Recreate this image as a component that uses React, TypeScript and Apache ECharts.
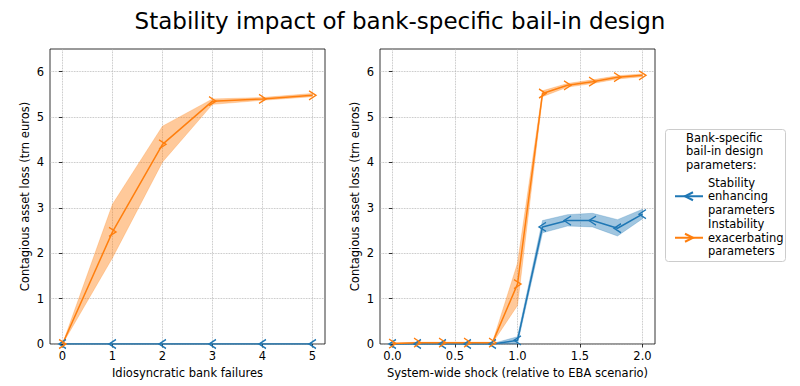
import React, { useEffect, useRef } from 'react';
import * as echarts from 'echarts';

const TITLE = 'Stability impact of bank-specific bail-in design';
const Y_NAME = 'Contagious asset loss (trn euros)';
const LEFT_X_NAME = 'Idiosyncratic bank failures';
const RIGHT_X_NAME = 'System-wide shock (relative to EBA scenario)';
const SERIES_STABLE = 'Stability\nenhancing\nparameters';
const SERIES_UNSTABLE = 'Instability\nexacerbating\nparameters';
const LEGEND_TITLE = 'Bank-specific\nbail-in design\nparameters:';

// Left panel: idiosyncratic bank failures
const leftX = [0, 1, 2, 3, 4, 5];
const leftStable = [0, 0, 0, 0, 0, 0];
const leftUnstable = [0, 2.47, 4.4, 5.35, 5.4, 5.48];
const leftUnstableLow = [0, 1.9, 4.01, 5.28, 5.37, 5.45];
const leftUnstableHigh = [0, 3.08, 4.8, 5.4, 5.43, 5.52];

// Right panel: system-wide shock
const rightX = [0, 0.2, 0.4, 0.6, 0.8, 1.0, 1.2, 1.4, 1.6, 1.8, 2.0];
const rightStable = [0, 0, 0, 0, 0, 0.08, 2.58, 2.72, 2.72, 2.55, 2.86];
const rightStableLow = [0, 0, 0, 0, 0, 0, 2.45, 2.6, 2.58, 2.38, 2.76];
const rightStableHigh = [0, 0.01, 0.01, 0.01, 0.01, 0.16, 2.72, 2.85, 2.88, 2.74, 2.97];
const rightUnstable = [0.01, 0.03, 0.03, 0.03, 0.03, 1.32, 5.52, 5.7, 5.78, 5.88, 5.92];
const rightUnstableLow = [0, 0.02, 0.02, 0.02, 0.02, 0.85, 5.45, 5.66, 5.74, 5.84, 5.89];
const rightUnstableHigh = [0.02, 0.04, 0.04, 0.04, 0.04, 1.78, 5.58, 5.74, 5.82, 5.91, 5.95];

const leftXTicks = [0, 1, 2, 3, 4, 5];
const rightXTicks = [0, 0.5, 1.0, 1.5, 2.0];
const yTicks = [0, 1, 2, 3, 4, 5, 6];

const BLUE = '#1f77b4';
const ORANGE = '#ff7f0e';
const FONT = 'DejaVu Sans';
const FS = 11.5;

const LEFT_ARROW = 'path://M10,0L0,5L10,10';
const RIGHT_ARROW = 'path://M0,0L10,5L0,10';

const pairs = (xs: number[], ys: number[]) => xs.map((x, i) => [x, ys[i]]);

function lineSeries(name: string, xs: number[], ys: number[], color: string, symbol: string, gi: number) {
  return {
    type: 'line',
    name,
    xAxisIndex: gi,
    yAxisIndex: gi,
    data: pairs(xs, ys),
    symbol,
    symbolSize: [7, 9],
    showSymbol: true,
    lineStyle: { color, width: 1.5 },
    itemStyle: { color: 'none', borderColor: color, borderWidth: 1.3 },
    z: 3,
  };
}

function bandSeries(id: string, xs: number[], low: number[], high: number[], color: string, gi: number) {
  return {
    type: 'custom',
    name: id,
    xAxisIndex: gi,
    yAxisIndex: gi,
    silent: true,
    z: 1,
    data: xs.map((x, i) => [x, low[i], high[i]]),
    encode: { x: 0, y: [1, 2] },
    renderItem: (params: any, api: any) => {
      if (params.dataIndex !== 0) return null;
      const top = xs.map((x, i) => api.coord([x, high[i]]));
      const bottom = xs.map((x, i) => api.coord([x, low[i]])).reverse();
      return {
        type: 'polygon',
        shape: { points: top.concat(bottom) },
        style: { fill: color, opacity: 0.42, stroke: color, lineWidth: 0.6 },
      };
    },
  };
}

function xAxisCfg(gi: number, min: number, max: number, ticks: number[], name: string, fmt: (v: number) => string) {
  return {
    gridIndex: gi,
    type: 'value',
    min,
    max,
    name,
    nameLocation: 'middle',
    nameGap: 22,
    nameTextStyle: { color: '#000', fontSize: FS, fontFamily: FONT },
    axisLine: { show: false },
    axisTick: { show: true, inside: false, length: 3.5, customValues: ticks, lineStyle: { color: '#000', width: 0.8 } },
    axisLabel: { customValues: ticks, color: '#000', fontSize: FS, fontFamily: FONT, margin: 6, formatter: (v: number) => fmt(v) },
    splitLine: { show: true, lineStyle: { type: 'dotted', color: '#b0b0b0', width: 0.8 } },
  };
}

function yAxisCfg(gi: number) {
  return {
    gridIndex: gi,
    type: 'value',
    min: 0,
    max: 6.5,
    name: Y_NAME,
    nameLocation: 'middle',
    nameGap: 19,
    nameRotate: 90,
    nameTextStyle: { color: '#000', fontSize: FS, fontFamily: FONT },
    axisLine: { show: false },
    axisTick: { show: true, inside: false, length: 3.5, customValues: yTicks, lineStyle: { color: '#000', width: 0.8 } },
    axisLabel: { customValues: yTicks, color: '#000', fontSize: FS, fontFamily: FONT, margin: 6 },
    splitLine: { show: true, lineStyle: { type: 'dotted', color: '#b0b0b0', width: 0.8 } },
  };
}

export default function App() {
  const ref = useRef<HTMLDivElement>(null);
  useEffect(() => {
    if (!ref.current) return;
    const chart = echarts.init(ref.current, undefined, { renderer: 'svg' });
    const option = {
      animation: false,
      backgroundColor: '#fff',
      title: {
        text: TITLE,
        left: 'center',
        top: 4,
        textStyle: { fontSize: 23, fontWeight: 'normal', color: '#000', fontFamily: FONT },
      },
      grid: [
        { left: 50, top: 49, width: 275, height: 295, show: true, borderColor: '#000', borderWidth: 0.8, backgroundColor: 'transparent' },
        { left: 380, top: 49, width: 275, height: 295, show: true, borderColor: '#000', borderWidth: 0.8, backgroundColor: 'transparent' },
      ],
      xAxis: [
        xAxisCfg(0, -0.25, 5.25, leftXTicks, LEFT_X_NAME, (v) => String(Math.round(v))),
        xAxisCfg(1, -0.1, 2.1, rightXTicks, RIGHT_X_NAME, (v) => v.toFixed(1)),
      ],
      yAxis: [yAxisCfg(0), yAxisCfg(1)],
      legend: {
        data: [SERIES_STABLE, SERIES_UNSTABLE],
        orient: 'vertical',
        left: 669,
        top: 171,
        itemWidth: 28,
        itemHeight: 10,
        itemGap: 1,
        selectedMode: false,
        textStyle: { color: '#000', fontSize: FS, fontFamily: FONT, lineHeight: 13.5 },
        z: 5,
      },
      graphic: [
        {
          type: 'rect',
          z: 0,
          shape: { x: 665.5, y: 129.5, width: 120, height: 132, r: 3 },
          style: { fill: 'rgba(255,255,255,0.8)', stroke: '#cccccc', lineWidth: 1 },
        },
        {
          type: 'text',
          z: 1,
          x: 686,
          y: 131,
          style: { text: LEGEND_TITLE, fill: '#000', fontSize: FS, fontFamily: FONT, lineHeight: 13.5 },
        },
      ],
      series: [
        bandSeries('band-left-unstable', leftX, leftUnstableLow, leftUnstableHigh, ORANGE, 0),
        bandSeries('band-right-stable', rightX, rightStableLow, rightStableHigh, BLUE, 1),
        bandSeries('band-right-unstable', rightX, rightUnstableLow, rightUnstableHigh, ORANGE, 1),
        lineSeries(SERIES_STABLE, leftX, leftStable, BLUE, LEFT_ARROW, 0),
        lineSeries(SERIES_UNSTABLE, leftX, leftUnstable, ORANGE, RIGHT_ARROW, 0),
        lineSeries(SERIES_STABLE, rightX, rightStable, BLUE, LEFT_ARROW, 1),
        lineSeries(SERIES_UNSTABLE, rightX, rightUnstable, ORANGE, RIGHT_ARROW, 1),
      ],
    };
    chart.setOption(option as any);
    return () => chart.dispose();
  }, []);
  return <div ref={ref} style={{ position: 'fixed', left: 0, top: 0, width: 800, height: 386 }} />;
}
